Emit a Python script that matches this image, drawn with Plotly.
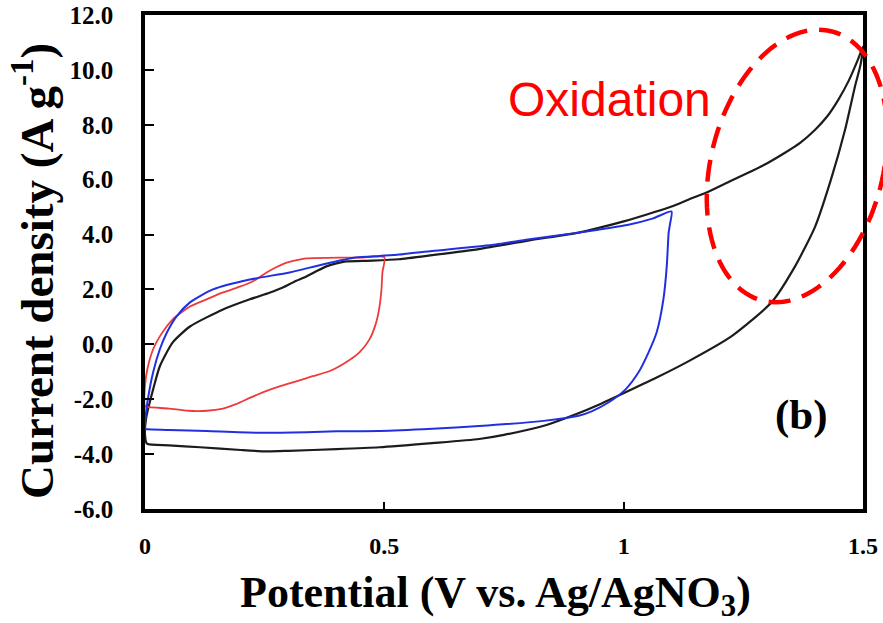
import numpy as np
import plotly.graph_objects as go

# ---- data ----
black_v = [0.0, 0.002, 0.017, 0.031, 0.058, 0.094, 0.163, 0.219, 0.26, 0.288, 0.312, 0.337, 0.36, 0.379,
           0.4, 0.42, 0.475, 0.53, 0.6, 0.7, 0.8, 0.906, 0.95, 1.0, 1.05, 1.1, 1.135, 1.177, 1.22, 1.26,
           1.3, 1.337, 1.37, 1.4, 1.425, 1.448, 1.47, 1.49, 1.5,
           1.495, 1.483, 1.4625, 1.433, 1.4, 1.358, 1.309, 1.225, 1.135, 1.07, 1.017, 0.948, 0.9, 0.837,
           0.75, 0.698, 0.6, 0.49, 0.4, 0.3, 0.254, 0.2, 0.115, 0.05, 0.004, 0.0]
black_j = [-3.3, -2.73, -1.64, -0.8, 0.07, 0.65, 1.27, 1.64, 1.88, 2.07, 2.28, 2.47, 2.68, 2.84,
           2.95, 3.02, 3.05, 3.1, 3.25, 3.48, 3.78, 4.07, 4.25, 4.48, 4.74, 5.02, 5.27, 5.56, 5.92, 6.25,
           6.6, 6.98, 7.36, 7.82, 8.3, 8.9, 9.6, 10.4, 10.85,
           10.2, 9.38, 7.82, 6.0, 4.29, 2.84, 1.53, 0.29, -0.62, -1.2, -1.64, -2.2, -2.55, -2.95,
           -3.3, -3.45, -3.6, -3.75, -3.82, -3.88, -3.9, -3.85, -3.75, -3.68, -3.62, -3.3]

blue_v = [0.0, 0.002, 0.006, 0.017, 0.031, 0.046, 0.066, 0.094, 0.142, 0.219, 0.302, 0.371, 0.44, 0.49,
          0.531, 0.6, 0.733, 0.8, 0.906, 1.01, 1.06, 1.1,
          1.097, 1.094, 1.09, 1.083, 1.069, 1.052, 1.031, 1.004, 0.969, 0.933, 0.906, 0.837, 0.698, 0.6,
          0.49, 0.4, 0.337, 0.233, 0.129, 0.05, 0.004, 0.0]
blue_j = [-3.1, -2.5, -2.0, -1.02, -0.18, 0.44, 1.02, 1.53, 2.0, 2.36, 2.62, 2.91, 3.16, 3.22,
          3.27, 3.4, 3.64, 3.82, 4.07, 4.36, 4.58, 4.84,
          4.4, 4.07, 2.84, 1.64, 0.44, -0.29, -1.02, -1.64, -2.11, -2.44, -2.6, -2.78, -2.98, -3.08,
          -3.16, -3.17, -3.2, -3.22, -3.16, -3.12, -3.09, -3.1]

red_v = [0.0, 0.0, 0.005, 0.017, 0.031, 0.058, 0.094, 0.13, 0.163, 0.198, 0.225, 0.254, 0.275, 0.296,
         0.32, 0.337, 0.406, 0.45, 0.5,
         0.496, 0.494, 0.49, 0.483, 0.469, 0.448, 0.42, 0.385, 0.35, 0.316, 0.281, 0.25, 0.219, 0.19,
         0.163, 0.129, 0.09, 0.05, 0.01, 0.0]
red_j = [-2.25, -1.5, -0.9, -0.18, 0.29, 0.91, 1.38, 1.65, 1.89, 2.1, 2.29, 2.62, 2.82, 2.98,
         3.08, 3.13, 3.16, 3.16, 3.18,
         2.62, 2.0, 1.38, 0.8, 0.18, -0.29, -0.65, -0.98, -1.16, -1.35, -1.53, -1.72, -1.95, -2.18,
         -2.34, -2.42, -2.42, -2.34, -2.29, -2.25]

x_ticks = [0, 0.5, 1, 1.5]
x_ticktext = ["0", "0.5", "1", "1.5"]
y_ticks = [-6, -4, -2, 0, 2, 4, 6, 8, 10, 12]
y_ticktext = ["-6.0", "-4.0", "-2.0", "0.0", "2.0", "4.0", "6.0", "8.0", "10.0", "12.0"]

# ---- figure ----
W, H = 883, 623
PL, PR, PT, PB = 145, 863, 15, 509   # plot-area box in page pixels

SERIF = "Liberation Serif, Times New Roman, serif"

fig = go.Figure()
for v, j, col, w in [(black_v, black_j, "#1c1c1c", 2.2),
                     (red_v, red_j, "#ef3a3a", 1.8),
                     (blue_v, blue_j, "#2030e0", 2.0)]:
    fig.add_trace(go.Scatter(x=v, y=j, mode="lines",
                             line=dict(color=col, width=w, shape="spline", smoothing=0.6),
                             showlegend=False, hoverinfo="skip"))

axis_common = dict(showline=True, mirror=True, linecolor="black", linewidth=3.5,
                   ticks="inside", tickcolor="black", tickwidth=2, showgrid=False,
                   zeroline=False, automargin=False)
fig.update_xaxes(range=[0, 1.5], tickvals=x_ticks, ticktext=x_ticktext, ticklen=7,
                 domain=[PL / W, PR / W],
                 tickfont=dict(family=SERIF, size=24, color="black", weight="bold"),
                 ticklabelstandoff=12, **axis_common)
fig.update_yaxes(range=[-6, 12], tickvals=y_ticks, ticktext=y_ticktext, ticklen=9,
                 domain=[1 - PB / H, 1 - PT / H],
                 tickfont=dict(family=SERIF, size=25, color="black", weight="bold"),
                 ticklabelstandoff=23, **axis_common)


def px_to_paper(px, py):
    return px / W, 1 - py / H


annos = [
    dict(text="<b>Current density (A g<sup>-1</sup>)</b>", px=(33, 271), size=47, angle=-90,
         family=SERIF, color="black"),
    dict(text="<b>Potential (V vs. Ag/AgNO<sub>3</sub>)</b>", px=(495, 595), size=44, angle=0,
         family=SERIF, color="black"),
    dict(text="Oxidation", px=(609, 99), size=48, angle=0,
         family="Liberation Sans, Arial, sans-serif", color="#ff0000"),
    dict(text="<b>(b)</b>", px=(801, 415), size=43, angle=0, family=SERIF, color="black"),
]
for a in annos:
    xp, yp = px_to_paper(*a["px"])
    fig.add_annotation(x=xp, y=yp, xref="paper", yref="paper", text=a["text"], showarrow=False,
                       xanchor="center", yanchor="middle", textangle=a["angle"],
                       font=dict(family=a["family"], size=a["size"], color=a["color"]))

# dashed tilted ellipse highlighting the oxidation region (page pixels)
cx, cy, semi_major, semi_minor, tilt = 797, 166, 139, 86, np.deg2rad(14.5)
t = np.linspace(0, 2 * np.pi, 121)
m = np.array([np.sin(tilt), -np.cos(tilt)])
n = np.array([np.cos(tilt), np.sin(tilt)])
ex = cx + semi_minor * np.cos(t) * n[0] + semi_major * np.sin(t) * m[0]
ey = cy + semi_minor * np.cos(t) * n[1] + semi_major * np.sin(t) * m[1]
pts = [px_to_paper(a, b) for a, b in zip(ex, ey)]
path = "M " + " L ".join(f"{p[0]:.5f},{p[1]:.5f}" for p in pts) + " Z"
fig.add_shape(type="path", path=path, xref="paper", yref="paper", layer="above",
              line=dict(color="#ff0000", width=4.5, dash="22px,12px"))

fig.update_layout(width=W, height=H, autosize=False,
                  margin=dict(l=0, r=0, t=0, b=0, autoexpand=False),
                  paper_bgcolor="white", plot_bgcolor="white")

fig.write_html("out.html")
